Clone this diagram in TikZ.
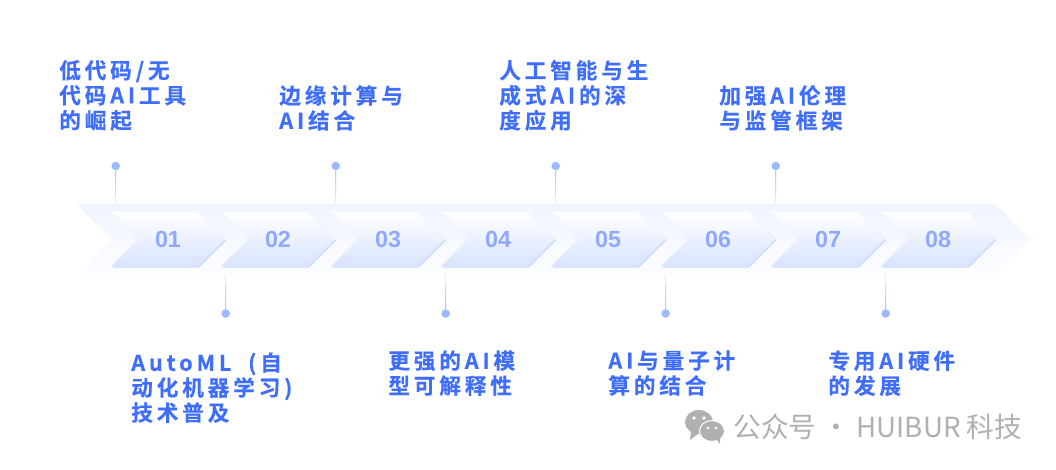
\documentclass[tikz,border=0pt]{standalone}
\usepackage{fontspec}
\setmainfont{Liberation Sans}
\newfontfamily\tagfont[LetterSpace=18,FakeBold=0.4]{Noto Sans CJK SC Bold}
\newfontfamily\markfont{Noto Sans CJK SC}
\usetikzlibrary{calc,positioning,shadows,shapes.symbols}
\definecolor{TrackTop}{HTML}{F0F4FF}
\definecolor{TrackBottom}{HTML}{FCFDFF}
\definecolor{ChevronMid}{HTML}{F2F5FF}
\definecolor{ChevronLow}{HTML}{D8E3FF}
\definecolor{ChevronEdge}{HTML}{CFDCFF}
\definecolor{StepBlue}{HTML}{8FA9FF}
\definecolor{StemBlue}{HTML}{9DB9FF}
\definecolor{TagBlue}{HTML}{3F6EFF}
\definecolor{MarkGray}{HTML}{B0B0B0}
\tikzset{
  track arrow/.style={
    signal,
    signal from=west,
    signal to=east,
    signal pointer angle=90,
    top color=TrackTop,
    bottom color=TrackBottom,
    draw=none,
    inner sep=0pt,
    minimum width=715.5pt,
    minimum height=53pt
  },
  step chevron/.style={
    signal,
    signal from=west,
    signal to=east,
    signal pointer angle=90,
    top color=white,
    middle color=ChevronMid,
    bottom color=ChevronLow,
    draw=none,
    inner sep=0pt,
    minimum width=85.5pt,
    minimum height=41pt,
    general shadow={shadow xshift=1pt,shadow yshift=-1pt,fill=ChevronEdge},
    text=StepBlue,
    font=\fontsize{17.5}{18}\selectfont\bfseries
  },
  stem dot/.style={circle,fill=StemBlue,draw=none,inner sep=0pt,minimum size=6.4pt},
  stem/.style={draw=StemBlue,line width=0.85pt,draw opacity=0.3},
  tag text/.style={
    text=TagBlue,
    inner sep=0pt,
    align=left,
    font=\fontsize{16.2}{18.75}\selectfont\tagfont
  }
}
\begin{document}
\begin{tikzpicture}[x=0.75pt,y=-0.75pt,node distance=82.5pt,on grid]
  \useasboundingbox[fill=white] (0,0) rectangle (1056,469);

  \node[track arrow] (track) at (553,239) {};

  \node[step chevron] (one) at (168,239) {01};
  \node[step chevron,right=of one] (two) {02};
  \node[step chevron,right=of two] (three) {03};
  \node[step chevron,right=of three] (four) {04};
  \node[step chevron,right=of four] (five) {05};
  \node[step chevron,right=of five] (six) {06};
  \node[step chevron,right=of six] (seven) {07};
  \node[step chevron,right=of seven] (eight) {08};

  \node[stem dot] (dotA) at (115.7,166) {};
  \node[stem dot,right=165pt of dotA] (dotC) {};
  \node[stem dot,right=165pt of dotC] (dotE) {};
  \node[stem dot,right=165pt of dotE] (dotG) {};
  \node[stem dot] (dotB) at (225.7,313.5) {};
  \node[stem dot,right=165pt of dotB] (dotD) {};
  \node[stem dot,right=165pt of dotD] (dotF) {};
  \node[stem dot,right=165pt of dotF] (dotH) {};

  \foreach \n in {dotA,dotC,dotE,dotG}
    \foreach \f in {0.25,0.5,0.75,1}
      \draw[stem] (\n) -- ($(\n)!\f!(\n |- track.north)$);
  \foreach \n in {dotB,dotD,dotF,dotH}
    \foreach \f in {0.25,0.5,0.75,1}
      \draw[stem] (\n) -- ($(\n)!\f!(\n |- track.south)$);

  \node[tag text,anchor=south west] (tagA) at ([xshift=-42.5pt,yshift=26.3pt]dotA) {低代码/无\\代码AI工具\\的崛起};
  \node[tag text,anchor=south west] (tagC) at ([xshift=-42.5pt,yshift=26.3pt]dotC) {边缘计算与\\AI结合};
  \node[tag text,anchor=south west] (tagE) at ([xshift=-42.5pt,yshift=26.3pt]dotE) {人工智能与生\\成式AI的深\\度应用};
  \node[tag text,anchor=south west] (tagG) at ([xshift=-42.5pt,yshift=26.3pt]dotG) {加强AI伦理\\与监管框架};
  \node[tag text,anchor=north west] (tagB) at ([xshift=-71pt,yshift=-29pt]dotB) {AutoML\hspace{6pt} (自\\动化机器学习)\\技术普及};
  \node[tag text,anchor=north west] (tagD) at ([xshift=-43.2pt,yshift=-27.5pt]dotD) {更强的AI模\\型可解释性};
  \node[tag text,anchor=north west] (tagF) at ([xshift=-43.2pt,yshift=-27.5pt]dotF) {AI与量子计\\算的结合};
  \node[tag text,anchor=north west] (tagH) at ([xshift=-43.2pt,yshift=-27.5pt]dotH) {专用AI硬件\\的发展};

  % wechat mark
  \fill[MarkGray] (699,422) ellipse (14 and 12);
  \fill[MarkGray] (691,431) -- (690,440) -- (699,433) -- cycle;
  \fill[white] (694,418) circle (1.8) (704,418) circle (1.8);
  \fill[MarkGray,draw=white,line width=0.75pt] (712,431) ellipse (12.5 and 10.5);
  \fill[MarkGray] (716,439) -- (720,444) -- (720,436) -- cycle;
  \fill[white] (708,428) circle (1.5) (716,428) circle (1.5);
  \node[anchor=west,inner sep=0pt,text=MarkGray,font=\fontsize{20.8}{24}\selectfont\markfont] (mark) at (733,427) {公众号 · HUIBUR 科技};
\end{tikzpicture}
\end{document}
